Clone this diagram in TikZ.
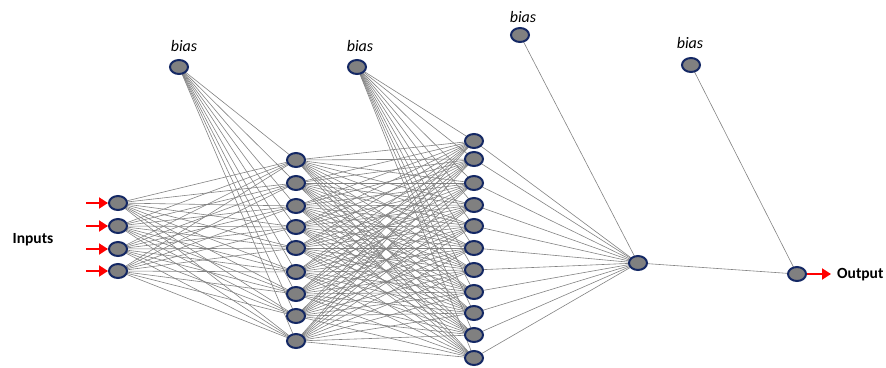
\documentclass[tikz,border=0pt]{standalone}
\usepackage{fontspec}
\setmainfont{Carlito}
\usetikzlibrary{arrows.meta,backgrounds,shapes.geometric}
\definecolor{navy}{RGB}{20,40,100}
\definecolor{nodegray}{RGB}{128,128,128}
\definecolor{linegray}{RGB}{130,130,130}
\begin{document}
\begin{tikzpicture}[x=1pt,y=-1pt,
  neuron/.style={ellipse,minimum width=18pt,minimum height=14pt,inner sep=0pt,fill=nodegray,draw=navy,line width=2pt},
  conn/.style={draw=linegray,line width=0.6pt},
  biaslabel/.style={font=\fontsize{16}{16}\selectfont\itshape,inner sep=0pt},
  sidelabel/.style={font=\fontsize{15.5}{15.5}\selectfont\bfseries,inner sep=0pt},
  redarrow/.style={draw=red,line width=2pt,-{Triangle[length=9pt,width=11pt]}}]
\useasboundingbox (0,0) rectangle (886,367);
% nodes
\foreach \y [count=\i] in {203,226,249,271} \node[neuron] (i\i) at (118,\y) {};
\foreach \y [count=\i] in {160,183,206,227,248,272,294,316,341} \node[neuron] (h\i) at (296,\y) {};
\foreach \y [count=\i] in {141,159,183,205,226,248,270,292,313,335,358} \node[neuron] (g\i) at (474,\y) {};
\node[neuron] (o1) at (638,263) {};
\node[neuron] (o2) at (797,274) {};
\node[neuron] (b1) at (179,67) {};
\node[neuron] (b2) at (357,67) {};
\node[neuron] (b3) at (520,35) {};
\node[neuron] (b4) at (691,65) {};
\node[biaslabel] (lb1) at (184,46) {bias};
\node[biaslabel] (lb2) at (360,46) {bias};
\node[biaslabel] (lb3) at (523,17) {bias};
\node[biaslabel] (lb4) at (690,43) {bias};
\node[sidelabel] (lin) at (33,240) {Inputs};
\node[sidelabel,anchor=west] (lout) at (837,275) {Output};
% connections
\begin{scope}[on background layer]
\foreach \a in {1,...,4} \foreach \b in {1,...,9} \draw[conn] (i\a.center) -- (h\b.center);
\foreach \b in {1,...,9} \draw[conn] (b1.center) -- (h\b.center);
\foreach \a in {1,...,9} \foreach \b in {1,...,11} \draw[conn] (h\a.center) -- (g\b.center);
\foreach \b in {1,...,11} \draw[conn] (b2.center) -- (g\b.center);
\foreach \a in {1,...,11} \draw[conn] (g\a.center) -- (o1.center);
\draw[conn] (b3.center) -- (o1.center);
\draw[conn] (o1.center) -- (o2.center);
\draw[conn] (b4.center) -- (o2.center);
\end{scope}
% input arrows
\foreach \y [count=\i] in {203,226,249,271} {
  \coordinate (a\i) at (86,\y);
  \draw[redarrow] (a\i) -- (i\i);
}
\coordinate (aout) at (831,274);
\draw[redarrow] (o2) -- (aout);
\end{tikzpicture}
\end{document}
